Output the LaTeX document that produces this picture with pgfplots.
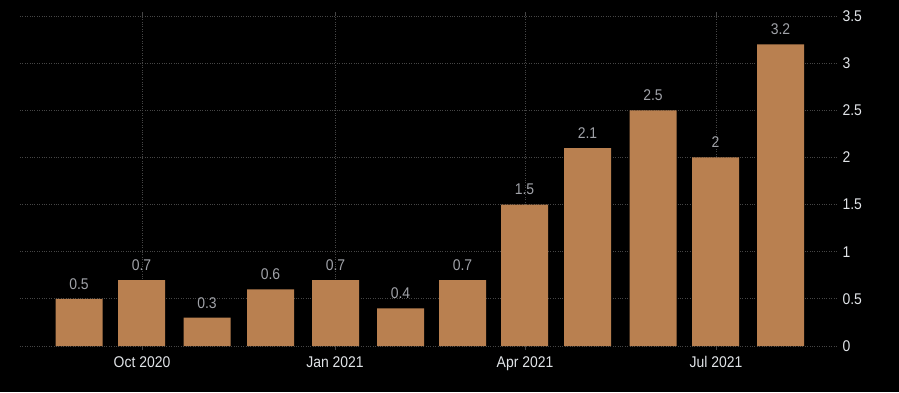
\documentclass[border=0pt]{standalone}
\usepackage{pgfplots}
\pgfplotsset{compat=1.18}
\usepackage{fontspec}
\setmainfont{Liberation Sans}
\newfontfamily\bbfont[FakeStretch=0.9]{Liberation Sans}
\definecolor{barc}{RGB}{185,128,80}
\definecolor{lblc}{RGB}{160,162,168}
\definecolor{tickc}{RGB}{225,228,232}
\definecolor{gridc}{RGB}{70,70,70}
\begin{document}
\begin{tikzpicture}[x=1pt,y=1pt]
\fill[black] (0,0) rectangle (899,392);
\useasboundingbox (0,0) rectangle (899,392);
\begin{axis}[
  at={(20pt,46pt)}, anchor=south west,
  scale only axis, width=817pt, height=330pt,
  xmin=20, xmax=837, ymin=0, ymax=3.5,
  axis line style={draw=none},
  ybar, bar width=47pt,
  ytick={0,0.5,1,1.5,2,2.5,3,3.5},
  yticklabel pos=right,
  yticklabels={0,0.5,1,1.5,2,2.5,3,3.5},
  ytick style={draw=none},
  yticklabel style={text=tickc, font=\bbfont\fontsize{15.5}{17}\selectfont, xshift=-2pt},
  xtick={142,335,525,716},
  xticklabels={Oct 2020,Jan 2021,Apr 2021,Jul 2021},
  xticklabel style={text=tickc, font=\bbfont\fontsize{15.5}{17}\selectfont, yshift=-3pt},
  xtick style={draw=gridc, thick},
  tick align=outside, major tick length=4pt,
  xmajorgrids, ymajorgrids,
  grid style={draw=gridc, dotted, line width=0.8pt},
  nodes near coords,
  nodes near coords style={text=lblc, font=\bbfont\fontsize{15.5}{17}\selectfont, yshift=6pt},
  /pgf/number format/assume math mode=true,
]
\addplot[fill=barc, draw=none] coordinates {
(79,0.5) (141.5,0.7) (207,0.3) (270.5,0.6) (335.5,0.7) (400.5,0.4) (462.5,0.7) (524.5,1.5) (587.5,2.1) (653,2.5) (715.5,2.0) (780.5,3.2)
};
\end{axis}
\end{tikzpicture}
\end{document}
